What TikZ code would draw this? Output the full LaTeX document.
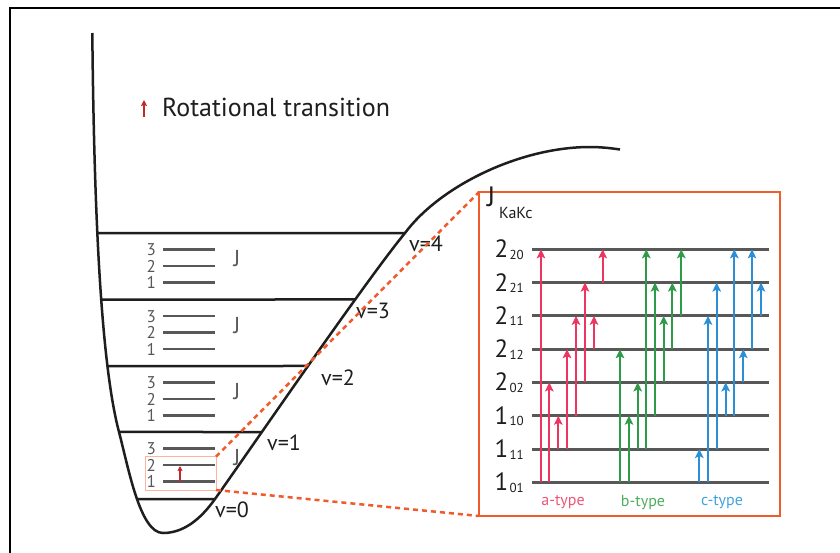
\documentclass[tikz,border=0pt]{standalone}
\usepackage{fontspec}
\setmainfont{PT Sans}
\usetikzlibrary{arrows.meta,intersections}
\definecolor{lvgray}{HTML}{585858}
\definecolor{acol}{HTML}{EC3560}
\definecolor{bcol}{HTML}{2E9B48}
\definecolor{ccol}{HTML}{2B8FD6}
\definecolor{alab}{HTML}{EE5577}
\definecolor{blab}{HTML}{4FAE5E}
\definecolor{clab}{HTML}{45A2DE}
\definecolor{zoomcol}{HTML}{F15A2B}
\definecolor{darkred}{HTML}{C1272D}
\definecolor{ink}{HTML}{1E1E1E}
\tikzset{
  vibline/.style={line width=2.5pt, draw=ink},
  rotline/.style={line width=2.5pt, draw=lvgray},
  ilvl/.style={line width=3pt, draw=lvgray},
  arrA/.style={line width=1.9pt, draw=acol, -{Stealth[length=9pt,width=8.5pt,inset=2pt]}},
  arrB/.style={line width=1.9pt, draw=bcol, -{Stealth[length=9pt,width=8.5pt,inset=2pt]}},
  arrC/.style={line width=1.9pt, draw=ccol, -{Stealth[length=9pt,width=8.5pt,inset=2pt]}},
  rotnum/.style={anchor=base east, inner sep=0pt, text=lvgray, font=\fontsize{17}{17}\selectfont},
  jlab/.style={inner sep=0pt, text=lvgray, font=\fontsize{23}{23}\selectfont},
  vlab/.style={anchor=west, inner sep=0pt, text=ink, font=\fontsize{22}{22}\selectfont},
  zoomline/.style={line width=2.5pt, draw=zoomcol, dash pattern=on 5pt off 4pt},
  typelab/.style={inner sep=0pt, font=\fontsize{16}{16}\selectfont},
}
\begin{document}
\begin{tikzpicture}[x=1pt, y=-1pt]
\useasboundingbox (0,0) rectangle (840,552);
\clip (0,0) rectangle (840,552);
\fill[white] (0,0) rectangle (840,552);
% outer frame
\draw[line width=2pt, black] (10,600) -- (10,8) -- (900,8);

% legend
\draw[line width=1.6pt, darkred, -{Stealth[length=6pt,width=6pt,inset=1pt]}] (144,117) coordinate (lgA) -- (144,100) coordinate (lgB);
\node[anchor=base west, inner sep=0pt, text=ink, font=\fontsize{26}{26}\selectfont] (legend) at (162,116.5) {Rotational transition};

% potential curve
\draw[line width=2.5pt, ink, name path=curve]
  (92.3,33) .. controls (94,200) and (100,360) .. (119,432)
  .. controls (128.5,468) and (140,533) .. (163,533)
  .. controls (183,533) and (200,520) .. (215,499)
  .. controls (245,457) and (364,283) .. (405,233)
  .. controls (440,186) and (520,147) .. (590,147)
  .. controls (600,147) and (610,148) .. (620,149.5);

% vibrational levels
\foreach \yy/\vv in {233/4, 299.5/3, 366/2, 432/1, 499/0} {
  \path[name path=h\vv] (40,\yy) -- (700,\yy);
  \path[name intersections={of=curve and h\vv, sort by=h\vv, name=i\vv}];
  \draw[vibline] (i\vv-1) -- (i\vv-2);
}
\node[vlab] (v4) at (409,243.5) {v=4};
\node[vlab] (v3) at (356,311) {v=3};
\node[vlab] (v2) at (321,378) {v=2};
\node[vlab] (v1) at (267,442.5) {v=1};
\node[vlab] (v0) at (215,510) {v=0};

% rotational levels
\foreach \V/\n in {233/a, 299.5/b, 366/c, 432/d} {
  \draw[rotline] (163,\V+16.5) -- (215,\V+16.5);
  \draw[rotline] (163,\V+33) -- (215,\V+33);
  \draw[rotline] (163,\V+49.5) -- (215,\V+49.5);
  \node[rotnum] (r3\n) at (156,\V+22.5) {3};
  \node[rotnum] (r2\n) at (156,\V+39) {2};
  \node[rotnum] (r1\n) at (156,\V+55.5) {1};
  \node[jlab] (j\n) at (237,\V+26) {J};
}

% small zoom box and transition
\draw[line width=1pt, draw={zoomcol!45}] (145,456.7) coordinate (sbTL) rectangle (216,490) coordinate (sbBR);
\coordinate (sbTR) at (216,456.7);
\draw[line width=1.6pt, darkred, -{Stealth[length=5pt,width=5pt,inset=1pt]}] (180,482) coordinate (stA) -- (180,466) coordinate (stB);

% inset box
\draw[line width=2.5pt, draw=zoomcol, fill=white] (479,192) coordinate (ibTL) rectangle (780,516) coordinate (ibBR);
\coordinate (ibBL) at (479,516);
\draw[zoomline] (sbTR) -- (ibTL);
\draw[zoomline] (sbBR) -- (ibBL);

% inset levels
\foreach \k in {1,...,8} {
  \draw[ilvl] (532,{482.3-33.29*(\k-1)}) -- (769,{482.3-33.29*(\k-1)});
}
\foreach \k/\m/\s in {1/1/01, 2/1/11, 3/1/10, 4/2/02, 5/2/12, 6/2/11, 7/2/21, 8/2/20} {
  \node[anchor=base east, inner sep=0pt, text=ink] (lab\k) at (524,{482.3-33.29*(\k-1)+8.5})
    {{\fontsize{25}{25}\selectfont \m}\kern1.5pt{\fontsize{13}{13}\selectfont\raisebox{-1.5pt}{\s}}};
}
\node[anchor=base west, inner sep=0pt, text=ink, font=\fontsize{28}{28}\selectfont] (Jbig) at (487,206) {J};
\node[anchor=base west, inner sep=0pt, text=ink, font=\fontsize{16}{16}\selectfont] (KaKc) at (499,218) {KaKc};

% transitions
\foreach \x/\a/\b in {541/1/8, 549.3/1/4, 558.3/2/3, 567/2/5, 576/3/6, 585/4/7, 594/5/6, 602.7/7/8} {
  \draw[arrA] (\x,{482.3-33.29*(\a-1)}) -- (\x,{482.3-33.29*(\b-1)});
}
\foreach \x/\a/\b in {620/1/5, 629/1/3, 637.7/2/4, 646.3/2/8, 655/3/7, 663.7/4/6, 672.3/5/7, 681.3/6/8} {
  \draw[arrB] (\x,{482.3-33.29*(\a-1)}) -- (\x,{482.3-33.29*(\b-1)});
}
\foreach \x/\a/\b in {699.3/1/2, 708/1/6, 716.7/2/7, 725.7/3/4, 734.3/3/8, 743.3/4/5, 752/5/8, 761/6/7} {
  \draw[arrC] (\x,{482.3-33.29*(\a-1)}) -- (\x,{482.3-33.29*(\b-1)});
}
\node[typelab, text=alab] (atype) at (563,502.5) {a-type};
\node[typelab, text=blab] (btype) at (643,502.5) {b-type};
\node[typelab, text=clab] (ctype) at (722,502.5) {c-type};
\end{tikzpicture}
\end{document}
